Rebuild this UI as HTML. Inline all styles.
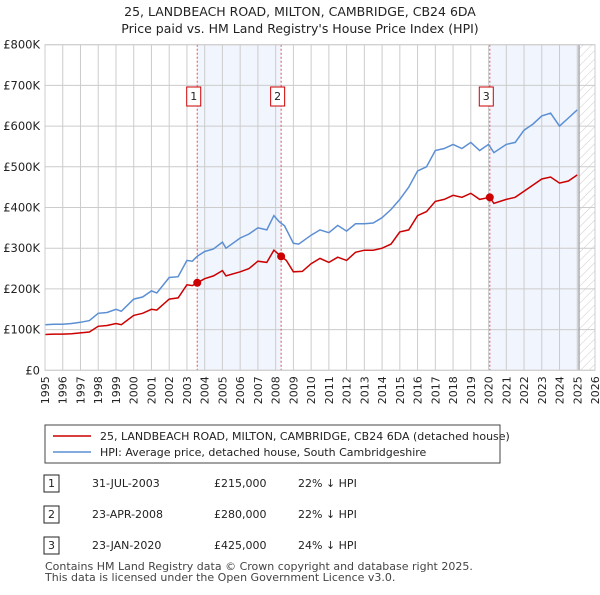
<!DOCTYPE html>
<html><head><meta charset="utf-8"><style>
body{margin:0;background:#fff;font-family:"Liberation Sans","DejaVu Sans",sans-serif;}
svg text{font-family:"DejaVu Sans","Liberation Sans",sans-serif;}
</style></head><body>
<svg width="600" height="590" viewBox="0 0 600 590" xmlns="http://www.w3.org/2000/svg">
<defs><pattern id="hatch" width="6" height="6" patternUnits="userSpaceOnUse" patternTransform="rotate(45)"><line x1="0" y1="0" x2="0" y2="6" stroke="#ccc" stroke-width="1"/></pattern></defs>
<text x="300" y="16" text-anchor="middle" font-size="12.5" fill="#222">25, LANDBEACH ROAD, MILTON, CAMBRIDGE, CB24 6DA</text>
<text x="300" y="33" text-anchor="middle" font-size="12.5" fill="#222">Price paid vs. HM Land Registry's House Price Index (HPI)</text>
<g id="plot"></g>
<g>
<rect x="45" y="425" width="455" height="38" fill="#fff" stroke="#444"/>
<line x1="53" y1="436" x2="91" y2="436" stroke="#cc0000" stroke-width="1.5"/>
<text x="100" y="440" font-size="11" fill="#222">25, LANDBEACH ROAD, MILTON, CAMBRIDGE, CB24 6DA (detached house)</text>
<line x1="53" y1="452" x2="91" y2="452" stroke="#5b8fd4" stroke-width="1.5"/>
<text x="100" y="456" font-size="11" fill="#222">HPI: Average price, detached house, South Cambridgeshire</text>
</g>
<g font-size="11" fill="#222">
<rect x="44" y="475" width="15" height="17" fill="#fff" stroke="#222"/><text x="51.5" y="487" text-anchor="middle">1</text>
<text x="92" y="487">31-JUL-2003</text><text x="214" y="487">£215,000</text><text x="298" y="487">22% ↓ HPI</text>
<rect x="44" y="506" width="15" height="17" fill="#fff" stroke="#222"/><text x="51.5" y="518" text-anchor="middle">2</text>
<text x="92" y="518">23-APR-2008</text><text x="214" y="518">£280,000</text><text x="298" y="518">22% ↓ HPI</text>
<rect x="44" y="537" width="15" height="17" fill="#fff" stroke="#222"/><text x="51.5" y="549" text-anchor="middle">3</text>
<text x="92" y="549">23-JAN-2020</text><text x="214" y="549">£425,000</text><text x="298" y="549">24% ↓ HPI</text>
</g>
<text x="45" y="570" font-size="11" fill="#444">Contains HM Land Registry data © Crown copyright and database right 2025.</text>
<text x="45" y="581" font-size="11" fill="#444">This data is licensed under the Open Government Licence v3.0.</text>
</svg>
<script>
const hpiYears=[1995,1995.5,1996,1996.5,1997,1997.5,1998,1998.5,1999,1999.3,2000,2000.5,2001,2001.3,2002,2002.5,2003,2003.3,2003.58,2004,2004.5,2005,2005.2,2006,2006.5,2007,2007.5,2007.9,2008.2,2008.5,2009,2009.3,2010,2010.5,2011,2011.5,2012,2012.5,2013,2013.5,2014,2014.5,2015,2015.5,2016,2016.5,2017,2017.5,2018,2018.5,2019,2019.5,2020,2020.3,2021,2021.5,2022,2022.5,2023,2023.5,2024,2024.5,2025];
const hpiValues=[112,113,113,115,118,122,140,142,150,145,175,180,195,190,228,230,270,268,280,292,298,315,300,325,335,350,345,380,365,355,312,310,332,345,338,356,342,360,360,362,375,395,420,450,490,500,540,545,555,545,560,540,555,535,555,560,590,605,625,632,600,620,640];
const priceYears=[1995,1995.5,1996,1996.5,1997,1997.5,1998,1998.5,1999,1999.3,2000,2000.5,2001,2001.3,2002,2002.5,2003,2003.3,2003.58,2004,2004.5,2005,2005.2,2006,2006.5,2007,2007.5,2007.9,2008.3,2008.6,2009,2009.5,2010,2010.5,2011,2011.5,2012,2012.5,2013,2013.5,2014,2014.5,2015,2015.5,2016,2016.5,2017,2017.5,2018,2018.5,2019,2019.5,2020.07,2020.3,2021,2021.5,2022,2022.5,2023,2023.5,2024,2024.5,2025];
const priceValues=[88,89,89,90,92,94,108,110,115,112,135,140,150,148,175,178,210,208,215,225,232,245,232,242,250,268,265,295,280,270,242,243,262,275,265,278,270,290,295,295,300,310,340,345,380,390,415,420,430,425,435,420,425,410,420,425,440,455,470,475,460,465,480];
const saleYears=[2003.58,2008.31,2020.07];
const saleValues=[215,280,425];
const saleLabels=["1","2","3"];
const yTicks=[0,100,200,300,400,500,600,700,800];
const yTickLabels=["£0","£100K","£200K","£300K","£400K","£500K","£600K","£700K","£800K"];
const xTicks=[1995,1996,1997,1998,1999,2000,2001,2002,2003,2004,2005,2006,2007,2008,2009,2010,2011,2012,2013,2014,2015,2016,2017,2018,2019,2020,2021,2022,2023,2024,2025,2026];

const X0=45,X1=595,Y0=370.3,Y1=44.7;
const xs=y=>X0+(y-1995)/(2026-1995)*(X1-X0);
const ys=v=>Y0-(v/800)*(Y0-Y1);
const NS="http://www.w3.org/2000/svg";
const g=document.getElementById('plot');
function mk(t,a){const e=document.createElementNS(NS,t);for(const k in a)e.setAttribute(k,a[k]);g.appendChild(e);return e;}
let r=mk('rect',{x:xs(saleYears[0]),y:Y1,width:xs(saleYears[1])-xs(saleYears[0]),height:Y0-Y1,fill:'#eef3fc',opacity:0.8});


r=mk('rect',{x:xs(saleYears[2]),y:Y1,width:xs(2025.1)-xs(saleYears[2]),height:Y0-Y1,fill:'#eef3fc',opacity:0.8});


r=mk('rect',{x:xs(2025.1),y:Y1,width:X1-xs(2025.1),height:Y0-Y1,fill:'url(#hatch)'});


xTicks.forEach(t=>{const l=mk('line',{x1:xs(t),x2:xs(t),y1:Y1,y2:Y0,stroke:'#ccc','stroke-width':1});


const tx=mk('text',{x:0,y:0,'font-size':11,fill:'#222','text-anchor':'end',transform:`translate(${xs(t)+4},${Y0+6}) rotate(-90)`});tx.textContent=t;

});
yTicks.forEach((t,i)=>{const l=mk('line',{x1:X0,x2:X1,y1:ys(t),y2:ys(t),stroke:'#ccc','stroke-width':1});


const tx=mk('text',{x:X0-5,y:ys(t)+4,'font-size':11.5,fill:'#222','text-anchor':'end'});tx.textContent=yTickLabels[i];

});
const vl=mk('line',{x1:xs(2025.1),x2:xs(2025.1),y1:Y1,y2:Y0,stroke:'#999','stroke-width':1.2});


saleYears.forEach((s,i)=>{const l=mk('line',{x1:xs(s),x2:xs(s),y1:Y1,y2:Y0,stroke:'#e05050','stroke-width':1,'stroke-dasharray':'2,2'});


const b=mk('rect',{x:xs(s)-10.5,y:87,width:14,height:19,fill:'#fff',stroke:'#cc0000'});


const tx=mk('text',{x:xs(s)-3.5,y:100,'font-size':11,fill:'#222','text-anchor':'middle'});tx.textContent=saleLabels[i];

});
function line(ya,va,c,n){const p=mk('polyline',{points:ya.map((y,i)=>xs(y).toFixed(1)+','+ys(va[i]).toFixed(1)).join(' '),fill:'none',stroke:c,'stroke-width':1.5});

}
line(hpiYears,hpiValues,'#5b8fd4','hpi-line');
line(priceYears,priceValues,'#cc0000','price-paid-line');
saleYears.forEach((s,i)=>{const c=mk('circle',{cx:xs(s),cy:ys(saleValues[i]),r:4,fill:'#cc0000'});

});
const bd=mk('rect',{x:X0,y:Y1,width:X1-X0,height:Y0-Y1,fill:'none',stroke:'#ccc'});


</script>
</body></html>
